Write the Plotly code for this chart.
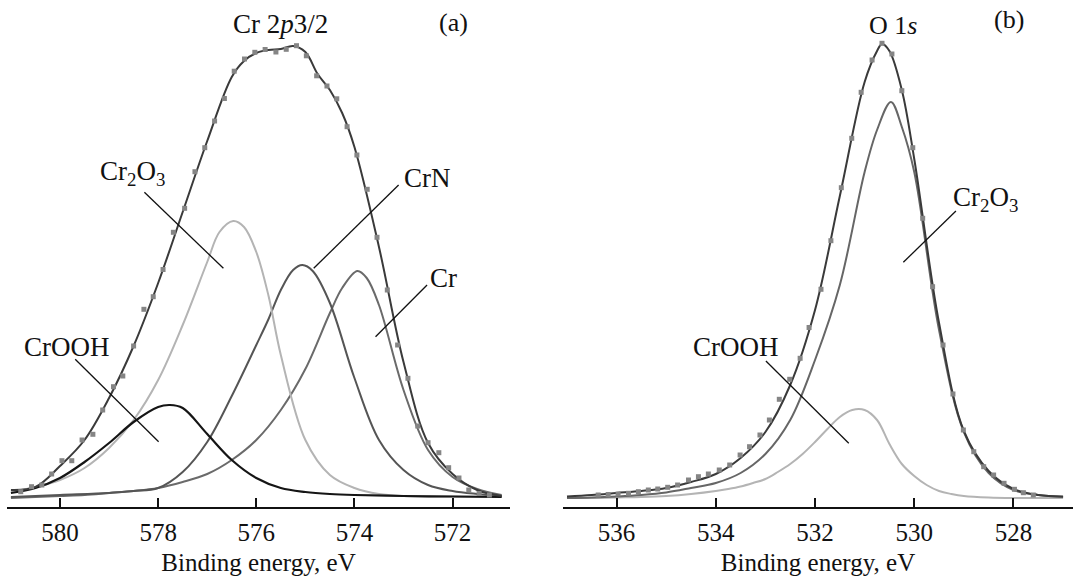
import plotly.graph_objects as go

# ---------------- Panel (a): Cr 2p3/2 ----------------
cr_exp_E = [580.80, 580.58, 580.37, 580.17, 579.96, 579.76, 579.55, 579.33, 579.13, 578.91,
            578.72, 578.50, 578.29, 578.10, 577.90, 577.69, 577.46, 577.25, 577.05, 576.85,
            576.65, 576.45, 576.24, 576.03, 575.82, 575.60, 575.39, 575.18, 574.98, 574.77,
            574.56, 574.36, 574.15, 573.95, 573.74, 573.54, 573.33, 573.12, 572.91, 572.71,
            572.50, 572.28, 572.08, 571.87, 571.67, 571.46, 571.25]
cr_exp_I = [7.3, 12.3, 14, 25, 38.3, 38.3, 59, 64.7, 89, 112.3,
            123, 153, 189.7, 202.3, 229.5, 266.7, 290.7, 327.3, 351.3, 378,
            400.5, 427.8, 440, 446.7, 449.5, 447, 449.7, 453.3, 443.2, 423.2,
            413, 400.2, 372.3, 344, 309.7, 261.7, 209, 154, 120.7, 73,
            56.3, 46.3, 31.3, 21, 9, 5.5, 4]

cr_fit_E = [581, 580.5, 580, 579.5, 579, 578.5, 578, 577.5, 577, 576.5, 576.25, 576,
            575.75, 575.5, 575.25, 575, 574.75, 574.5, 574.25, 574, 573.5, 573, 572.5,
            572, 571.5, 571]
cr_fit_I = [9, 12, 33, 59, 101, 153, 216, 287, 358, 422, 438, 446,
            449, 450, 453, 447, 425, 409, 386, 352, 252, 137, 56,
            25, 9, 3]

crooh_a_E = [581, 580.5, 580, 579.5, 579, 578.5, 578, 577.76, 577.5, 577, 576.5, 576,
             575.5, 575, 574.5, 574, 573, 572, 571]
crooh_a_I = [6, 11, 21, 37, 56, 77, 92, 94, 91, 65, 39, 21,
             11, 7, 5, 4, 3, 2.5, 2]

cr2o3_a_E = [581, 580.5, 580, 579.5, 579, 578.5, 578, 577.5, 577, 576.75, 576.47, 576.25,
             576, 575.75, 575.5, 575, 574.5, 574, 573.5, 573, 572, 571]
cr2o3_a_I = [7, 12, 19, 31, 51, 79, 119, 174, 237, 267, 278, 272,
             247, 203, 144, 59, 24, 11, 5, 3, 2.5, 2]

crn_E = [581, 580, 579, 578.5, 578, 577.5, 577, 576.5, 576, 575.75, 575.5, 575.25,
         575.06, 574.85, 574.5, 574, 573.5, 573, 572.5, 572, 571.5, 571]
crn_I = [2, 4, 6, 8, 11, 27, 57, 103, 154, 180, 209, 229,
         234, 228, 196, 121, 59, 29, 14, 8, 5, 3]

cr_E = [581, 580.5, 580, 579.5, 579, 578.5, 578, 577.5, 577, 576.5, 576, 575.5,
        575, 574.5, 574.25, 573.94, 573.75, 573.5, 573, 572.5, 572, 571.5, 571]
cr_I = [1, 2, 3, 4, 6, 8, 11, 17, 25, 39, 59, 89,
        130, 186, 211, 228, 221, 194, 109, 49, 22, 10, 4]

# ---------------- Panel (b): O 1s ----------------
o_exp_E = [536.37, 536.17, 535.97, 535.76, 535.56, 535.36, 535.17, 534.97, 534.77, 534.55,
           534.35, 534.15, 533.93, 533.72, 533.51, 533.32, 533.11, 532.92, 532.72, 532.51,
           532.30, 532.12, 531.88, 531.68, 531.47, 531.26, 531.07, 530.85, 530.65, 530.45,
           530.25, 530.03, 529.83, 529.63, 529.42, 529.22, 529.01, 528.80, 528.60, 528.40,
           528.19, 527.98, 527.80, 527.60]
o_exp_I = [4, 4.5, 5, 5.7, 7.3, 9, 10, 11.7, 14, 19,
           22.3, 25, 29, 34, 44, 52.3, 64, 79, 99.7, 119.7,
           140.7, 171.5, 209.7, 258.3, 311.3, 360.7, 406.7, 439, 455.7, 445,
           408.3, 351.3, 280.7, 212.3, 154, 105, 69, 47.3, 32.3, 24,
           15.7, 9.7, 6.3, 4]

o_fit_E = [537, 536.5, 536, 535.5, 535, 534.5, 534, 533.5, 533, 532.5, 532, 531.5,
           531, 530.75, 530.65, 530.5, 530.25, 530, 529.5, 529, 528.5, 528, 527.5, 527]
o_fit_I = [2.5, 4, 6, 8, 11, 17, 25, 41, 67, 114, 189, 303,
           417, 448, 455, 448, 409, 340, 176, 68, 28, 10, 4, 2.5]

cr2o3_b_E = [537, 536.5, 536, 535.5, 535, 534.5, 534, 533.5, 533, 532.5, 532, 531.5,
             531, 530.75, 530.47, 530.25, 530, 529.5, 529, 528.5, 528, 527.5, 527]
cr2o3_b_I = [1, 1.5, 2.5, 4, 6.5, 11, 16, 26, 45, 79, 139, 214,
             327, 369, 397, 372, 327, 169, 67, 26, 9, 4, 2]

crooh_b_E = [537, 536.5, 536, 535.5, 535, 534.5, 534, 533.75, 533.5, 533.25, 533, 532.75,
             532.5, 532.25, 532, 531.75, 531.5, 531.25, 531, 530.75, 530.5, 530.25, 530,
             529.75, 529.5, 529.25, 529, 528.5, 528, 527]
crooh_b_I = [1, 1, 1.5, 2, 3, 5, 8, 10, 12.5, 16, 20, 27,
             35, 45, 57, 70, 82, 89, 89, 79, 55, 35, 23,
             14, 8, 5, 3, 1.5, 1, 1]

FONT = "Liberation Serif, Times New Roman, serif"
fig = go.Figure()

def line(E, I, color, width, xa, ya):
    fig.add_trace(go.Scatter(x=E, y=I, mode="lines", xaxis=xa, yaxis=ya,
                             line=dict(color=color, width=width, shape="spline", smoothing=1.0),
                             showlegend=False, hoverinfo="skip"))

def pts(E, I, xa, ya):
    fig.add_trace(go.Scatter(x=E, y=I, mode="markers", xaxis=xa, yaxis=ya,
                             marker=dict(symbol="square", size=5, color="#858585"),
                             showlegend=False, hoverinfo="skip"))

# panel a
line(cr_E, cr_I, "#6a6a6a", 2, "x", "y")
line(crn_E, crn_I, "#555555", 2, "x", "y")
line(cr2o3_a_E, cr2o3_a_I, "#b4b4b4", 2, "x", "y")
line(crooh_a_E, crooh_a_I, "#151515", 2.2, "x", "y")
line(cr_fit_E, cr_fit_I, "#3a3a3a", 2, "x", "y")
pts(cr_exp_E, cr_exp_I, "x", "y")

# panel b
line(crooh_b_E, crooh_b_I, "#b4b4b4", 2, "x2", "y2")
line(cr2o3_b_E, cr2o3_b_I, "#666666", 2, "x2", "y2")
line(o_fit_E, o_fit_I, "#3a3a3a", 2, "x2", "y2")
pts(o_exp_E, o_exp_I, "x2", "y2")

axis_common = dict(showgrid=False, zeroline=False, showline=True, linecolor="#111",
                   linewidth=1.5, ticks="inside", ticklen=9, tickwidth=1.5, tickcolor="#111",
                   ticklabelstandoff=2,
                   tickfont=dict(family=FONT, size=25, color="#111"), mirror=False)

title_font = dict(family=FONT, size=25, color="#111")

fig.update_layout(
    width=1073, height=580,
    margin=dict(l=0, r=0, t=0, b=73),
    paper_bgcolor="white", plot_bgcolor="white",
    xaxis=dict(domain=[7/1073, 510/1073], range=[581.08, 570.83], anchor="y",
               tickvals=[580, 578, 576, 574, 572],
               title=dict(text="Binding energy, eV", font=title_font, standoff=9),
               **axis_common),
    xaxis2=dict(domain=[563/1073, 1.0], range=[537.08, 526.8], anchor="y2",
                tickvals=[536, 534, 532, 530, 528],
                title=dict(text="Binding energy, eV", font=title_font, standoff=9),
                **axis_common),
    yaxis=dict(domain=[0, 1], range=[-8, 499], visible=False, anchor="x"),
    yaxis2=dict(domain=[0, 1], range=[-8, 499], visible=False, anchor="x2"),
)

def lead(x0, y0, x1, y1, xa, ya):
    fig.add_shape(type="line", x0=x0, y0=y0, x1=x1, y1=y1, xref=xa, yref=ya,
                  line=dict(color="#111", width=1.3))

lead(578.28, 306.7, 576.67, 230.7, "x", "y")
lead(573.10, 314, 574.83, 230.7, "x", "y")
lead(572.52, 214, 573.57, 162.3, "x", "y")
lead(579.69, 139.7, 577.99, 57.3, "x", "y")
lead(529.16, 288, 530.22, 236.7, "x2", "y2")
lead(532.99, 138, 531.32, 55.7, "x2", "y2")

def label(x, y, text, xa, ya, size=27):
    fig.add_annotation(x=x, y=y, xref=xa, yref=ya, text=text, showarrow=False,
                       font=dict(family=FONT, size=size, color="#111"))

label(578.53, 326, "Cr<sub>2</sub>O<sub>3</sub>", "x", "y")
label(572.51, 321, "CrN", "x", "y")
label(572.18, 221, "Cr", "x", "y")
label(579.86, 152, "CrOOH", "x", "y")
label(575.51, 475, "Cr 2<i>p</i>3/2", "x", "y")
label(571.98, 477, "(a)", "x", "y", 26)
label(530.42, 474, "O 1<i>s</i>", "x2", "y2", 26)
label(528.10, 480, "(b)", "x2", "y2", 26)
label(528.57, 300, "Cr<sub>2</sub>O<sub>3</sub>", "x2", "y2")
label(533.59, 152, "CrOOH", "x2", "y2")

fig.write_html("out.html")
